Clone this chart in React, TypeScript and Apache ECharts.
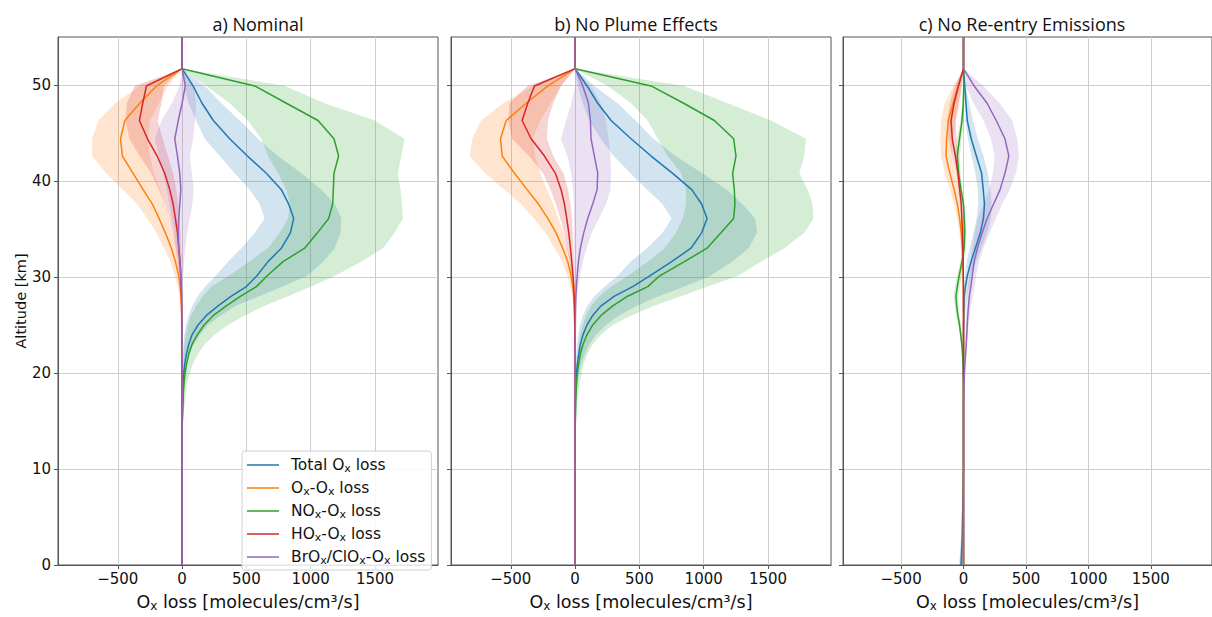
import React, { useEffect, useRef } from 'react';
import * as echarts from 'echarts';

// Altitude levels [km]
const ALT = [0, 3, 10, 13, 15, 17, 18, 19, 20, 21, 22, 23, 24, 25, 26, 27, 28, 29, 30.1, 31.6, 33.0, 34.6, 36.1, 37.6, 39.1, 40.8, 42.6, 44.4, 46.3, 48.1, 49.9, 51.7, 55];

const PANEL_TITLES = ['a) Nominal', 'b) No Plume Effects', 'c) No Re-entry Emissions'];
const SERIES_KEYS = ['total', 'ox', 'nox', 'hox', 'brox'];
const SERIES_LABELS = ['Total O{s|x} loss', 'O{s|x}-O{s|x} loss', 'NO{s|x}-O{s|x} loss', 'HO{s|x}-O{s|x} loss', 'BrO{s|x}/ClO{s|x}-O{s|x} loss'];
const COLORS = ['#1f77b4', '#ff7f0e', '#2ca02c', '#d62728', '#9467bd'];
const BAND_FILLS = ['rgba(31,119,180,0.2)', 'rgba(255,127,14,0.2)', 'rgba(44,160,44,0.2)', 'rgba(214,39,40,0.2)', 'rgba(148,103,189,0.2)'];
const X_TICKS = [-500, 0, 500, 1000, 1500];
const Y_TICKS = [0, 10, 20, 30, 40, 50];

// ---- Panel a) Nominal ----
const A_TOTAL = [0, 0, 0, 0, 1, 3, 5, 8, 13, 21, 34, 52, 78, 124, 189, 280, 383, 500, 580, 668, 772, 842, 868, 829, 772, 655, 508, 370, 243, 155, 85, 0, 0];
const A_TOTAL_LO = [0, 0, 0, 0, 0, 0, 0, 1, 2, 4, 6, 10, 18, 30, 50, 80, 120, 180, 260, 357, 461, 565, 642, 603, 526, 409, 293, 176, 110, 50, 15, 0, 0];
const A_TOTAL_HI = [0, 0, 0, 0, 2, 5, 9, 15, 24, 38, 60, 90, 140, 200, 300, 420, 600, 780, 970, 1096, 1186, 1233, 1238, 1186, 1083, 927, 746, 590, 448, 306, 176, 0, 0];
const A_OX = [0, 0, 0, 0, 0, 0, 0, 0, 0, 0, 0, 0, -1, -2, -3, -5, -8, -15, -26, -52, -83, -130, -179, -231, -303, -381, -464, -479, -445, -329, -199, 0, 0];
const A_OX_LO = [0, 0, 0, 0, 0, 0, 0, 0, 0, 0, 0, 0, -1, -3, -6, -12, -20, -35, -55, -90, -140, -200, -270, -350, -460, -590, -700, -700, -650, -520, -330, 0, 0];
const A_OX_HI = [0, 0, 0, 0, 0, 0, 0, 0, 0, 0, 0, 0, 0, 0, 0, -1, -3, -6, -12, -25, -40, -65, -95, -130, -170, -220, -250, -265, -250, -180, -110, 0, 0];
const A_NOX = [0, 0, 0, 0, 2, 8, 10, 16, 23, 36, 52, 78, 119, 171, 243, 344, 456, 578, 660, 785, 953, 1052, 1140, 1171, 1176, 1181, 1217, 1181, 1057, 811, 565, 0, 0];
const A_NOX_LO = [0, 0, 0, 0, 0, 1, 2, 3, 5, 8, 12, 18, 28, 45, 70, 110, 160, 230, 360, 520, 668, 759, 824, 837, 811, 746, 668, 616, 513, 370, 189, 0, 0];
const A_NOX_HI = [0, 0, 0, 2, 8, 23, 31, 41, 60, 85, 124, 176, 254, 357, 487, 642, 824, 1005, 1186, 1393, 1562, 1652, 1717, 1709, 1699, 1678, 1704, 1730, 1497, 1108, 798, 0, 0];
const A_HOX = [0, 0, 0, 0, 0, -1, -1, -1, -1, -1, -1, -2, -2, -3, -3, -4, -5, -7, -10, -16, -26, -36, -52, -70, -96, -135, -194, -269, -332, -306, -277, 0, 0];
const A_HOX_LO = [0, 0, 0, 0, 0, -1, -1, -1, -1, -1, -1, -1, -2, -3, -4, -6, -9, -14, -22, -35, -50, -70, -95, -130, -180, -240, -330, -410, -440, -430, -370, 0, 0];
const A_HOX_HI = [0, 0, 0, 0, 0, 0, 0, 0, 0, 0, 0, 0, 0, 0, 0, 0, 0, -1, -2, -4, -8, -12, -20, -30, -45, -70, -110, -150, -190, -160, -140, 0, 0];
const A_BROX = [0, 0, 0, 0, 0, 0, 0, 0, 0, 0, 0, 0, 0, 0, -1, -2, -3, -5, -10, -16, -26, -30, -26, -18, -10, -18, -36, -57, -30, 0, 25, 0, 0];
const A_BROX_LO = [0, 0, 0, 0, 0, 0, 0, 0, 0, 0, 0, 0, 0, -2, -3, -5, -8, -12, -20, -30, -45, -60, -80, -100, -120, -150, -180, -212, -160, -80, -20, 0, 0];
const A_BROX_HI = [0, 0, 0, 0, 0, 0, 0, 0, 0, 0, 0, 0, 0, 0, 1, 2, 3, 5, 8, 15, 25, 40, 60, 80, 90, 75, 60, 85, 100, 110, 90, 0, 0];

// ---- Panel b) No Plume Effects ----
const B_TOTAL = [0, 0, 0, 0, 1, 2, 3, 6, 10, 18, 28, 41, 62, 93, 137, 202, 306, 448, 578, 751, 901, 984, 1026, 984, 907, 759, 591, 435, 280, 176, 93, 0, 0];
const B_TOTAL_LO = [0, 0, 0, 0, 0, 0, 0, 1, 3, 5, 9, 15, 24, 38, 60, 95, 150, 230, 330, 430, 560, 680, 750, 680, 560, 430, 300, 200, 110, 60, 20, 0, 0];
const B_TOTAL_HI = [0, 0, 0, 0, 2, 7, 12, 20, 32, 50, 75, 112, 165, 240, 340, 480, 650, 850, 1050, 1220, 1350, 1415, 1400, 1300, 1180, 990, 780, 610, 470, 330, 150, 0, 0];
const B_OX = [0, 0, 0, 0, 0, 0, 0, 0, 0, 0, 0, 0, -1, -2, -4, -6, -10, -18, -31, -57, -96, -148, -212, -285, -373, -471, -567, -580, -536, -381, -212, 0, 0];
const B_OX_LO = [0, 0, 0, 0, 0, 0, 0, 0, 0, 0, 0, -1, -2, -4, -7, -13, -22, -38, -60, -100, -160, -230, -320, -420, -550, -700, -820, -800, -730, -560, -330, 0, 0];
const B_OX_HI = [0, 0, 0, 0, 0, 0, 0, 0, 0, 0, 0, 0, 0, 0, -1, -2, -4, -8, -18, -35, -58, -90, -130, -170, -220, -270, -310, -330, -270, -190, -110, 0, 0];
const B_NOX = [0, 0, 0, 0, 2, 5, 8, 12, 18, 28, 41, 62, 93, 137, 202, 293, 409, 565, 655, 850, 1026, 1134, 1233, 1243, 1238, 1225, 1251, 1233, 1083, 844, 591, 0, 0];
const B_NOX_LO = [0, 0, 0, 0, 0, 2, 3, 5, 10, 16, 23, 31, 41, 60, 85, 124, 189, 280, 409, 565, 694, 785, 837, 862, 862, 824, 720, 642, 565, 435, 254, 0, 0];
const B_NOX_HI = [0, 0, 0, 2, 8, 18, 26, 36, 52, 67, 98, 137, 202, 293, 435, 616, 824, 1031, 1264, 1445, 1627, 1782, 1854, 1847, 1808, 1743, 1782, 1795, 1523, 1186, 850, 0, 0];
const B_HOX = [0, 0, 0, 0, 0, -1, -1, -1, -1, -1, -1, -2, -2, -3, -4, -5, -7, -10, -16, -26, -36, -49, -65, -83, -109, -153, -238, -342, -412, -368, -316, 0, 0];
const B_HOX_LO = [0, 0, 0, 0, 0, -1, -1, -1, -1, -1, -1, -2, -3, -5, -7, -10, -14, -20, -30, -44, -62, -85, -115, -150, -190, -250, -360, -490, -520, -510, -370, 0, 0];
const B_HOX_HI = [0, 0, 0, 0, 0, 0, 0, 0, 0, 0, 0, 0, 0, 0, -1, -1, -2, -3, -5, -8, -12, -18, -25, -35, -55, -90, -170, -220, -210, -170, -110, 0, 0];
const B_BROX = [0, 0, 0, 0, 0, 0, 0, 0, 0, 0, 0, 0, 1, 2, 3, 4, 6, 10, 16, 26, 41, 67, 98, 137, 171, 176, 150, 124, 119, 104, 60, 0, 0];
const B_BROX_LO = [0, 0, 0, 0, 0, 0, 0, 0, 0, 0, 0, 0, 0, 0, -1, -2, -2, -3, -4, -6, -8, -10, -10, -10, -15, -30, -60, -110, -70, -30, 0, 0, 0];
const B_BROX_HI = [0, 0, 0, 0, 0, 0, 0, 0, 0, 0, 0, 1, 2, 4, 6, 10, 16, 25, 38, 60, 90, 130, 185, 240, 275, 280, 275, 260, 240, 200, 120, 0, 0];

// ---- Panel c) No Re-entry Emissions ----
const C_TOTAL = [-20, -10, 0, 0, 0, 0, 0, 0, 0, 0, 0, 0, 0, 1, 2, 4, 6, 15, 30, 60, 95, 135, 160, 168, 158, 145, 103, 62, 30, 20, 10, 0, 0];
const C_TOTAL_LO = [-35, -20, -5, 0, 0, 0, 0, 0, 0, 0, 0, 0, 0, 0, 0, 1, 2, 5, 10, 25, 50, 80, 105, 118, 115, 95, 65, 35, 15, 10, 5, 0, 0];
const C_TOTAL_HI = [-5, 0, 5, 2, 1, 1, 1, 2, 3, 4, 5, 6, 8, 10, 14, 20, 30, 45, 60, 100, 145, 190, 220, 225, 215, 195, 160, 115, 75, 45, 20, 0, 0];
const C_OX = [0, 0, 0, 0, 0, 0, 0, 0, 0, 0, 0, 0, 0, 0, 0, 0, 0, -1, -2, -5, -10, -18, -31, -49, -75, -109, -140, -135, -122, -83, -44, 0, 0];
const C_OX_LO = [0, 0, 0, 0, 0, 0, 0, 0, 0, 0, 0, 0, 0, 0, 0, 0, -1, -2, -5, -10, -20, -32, -50, -75, -110, -150, -180, -185, -180, -150, -80, 0, 0];
const C_OX_HI = [0, 0, 0, 0, 0, 0, 0, 0, 0, 0, 0, 0, 0, 0, 0, 0, 0, 0, 0, -1, -3, -7, -14, -25, -40, -65, -90, -85, -60, -30, -15, 0, 0];
const C_NOX = [0, 0, 0, 0, 0, 0, 0, 0, -2, -4, -8, -14, -22, -32, -45, -55, -60, -50, -35, -12, 5, 10, 6, 0, -20, -40, -50, -32, -12, -2, 2, 0, 0];
const C_NOX_LO = [0, 0, 0, 0, 0, 0, 0, 0, -3, -6, -12, -20, -30, -42, -58, -70, -78, -68, -50, -25, -5, -2, -4, -12, -30, -55, -70, -50, -25, -8, -5, 0, 0];
const C_NOX_HI = [0, 0, 0, 0, 0, 0, 0, 1, 1, 0, -3, -7, -13, -22, -32, -40, -42, -30, -15, 5, 18, 22, 16, 8, -8, -25, -30, -15, 2, 8, 10, 0, 0];
const C_HOX = [0, 0, 0, 0, 0, 0, 0, 0, 0, 0, 0, 0, 0, 0, 0, -1, -1, -1, -2, -3, -5, -8, -13, -18, -31, -44, -65, -90, -100, -75, -40, 0, 0];
const C_HOX_LO = [0, 0, 0, 0, 0, 0, 0, 0, 0, 0, 0, 0, 0, 0, -1, -1, -2, -2, -3, -5, -8, -13, -20, -28, -42, -60, -90, -120, -130, -110, -70, 0, 0];
const C_HOX_HI = [0, 0, 0, 0, 0, 0, 0, 0, 0, 0, 0, 0, 0, 0, 0, 0, 0, 0, -1, -1, -2, -4, -7, -10, -20, -28, -40, -55, -65, -40, -15, 0, 0];
const C_BROX = [0, 0, 0, 0, 0, 0, 2, 4, 8, 12, 17, 22, 26, 30, 34, 40, 47, 58, 70, 85, 111, 150, 189, 241, 293, 332, 363, 332, 262, 189, 85, 0, 0];
const C_BROX_LO = [0, 0, 0, 0, 0, 0, 0, 0, 2, 5, 8, 12, 16, 19, 22, 26, 30, 36, 45, 55, 70, 90, 115, 160, 205, 235, 250, 220, 160, 80, 20, 0, 0];
const C_BROX_HI = [0, 0, 0, 0, 0, 1, 3, 6, 10, 16, 22, 28, 35, 42, 50, 60, 75, 90, 100, 125, 160, 210, 260, 310, 370, 420, 445, 430, 390, 290, 160, 0, 0];

const PANEL_MEANS = [
  [A_TOTAL, A_OX, A_NOX, A_HOX, A_BROX],
  [B_TOTAL, B_OX, B_NOX, B_HOX, B_BROX],
  [C_TOTAL, C_OX, C_NOX, C_HOX, C_BROX],
];
const PANEL_LOS = [
  [A_TOTAL_LO, A_OX_LO, A_NOX_LO, A_HOX_LO, A_BROX_LO],
  [B_TOTAL_LO, B_OX_LO, B_NOX_LO, B_HOX_LO, B_BROX_LO],
  [C_TOTAL_LO, C_OX_LO, C_NOX_LO, C_HOX_LO, C_BROX_LO],
];
const PANEL_HIS = [
  [A_TOTAL_HI, A_OX_HI, A_NOX_HI, A_HOX_HI, A_BROX_HI],
  [B_TOTAL_HI, B_OX_HI, B_NOX_HI, B_HOX_HI, B_BROX_HI],
  [C_TOTAL_HI, C_OX_HI, C_NOX_HI, C_HOX_HI, C_BROX_HI],
];

const GRID_LEFTS = [58, 451, 843];
const GRID_TOP = 37;
const GRID_W = 380;
const GRID_H = 540;
const TITLE_X = [258, 636, 1022];
const FONT = 'DejaVu Sans';

const xFmt = (v: number) => (v < 0 ? '\u2212' + Math.abs(v) : String(v));

function buildOption(): any {
  const grids: any[] = [];
  const xAxes: any[] = [];
  const yAxes: any[] = [];
  const series: any[] = [];

  for (let p = 0; p < 3; p++) {
    grids.push({
      left: GRID_LEFTS[p], top: GRID_TOP, width: GRID_W, height: GRID_H,
      show: true, borderColor: '#555', borderWidth: 1, backgroundColor: 'transparent',
    });
    xAxes.push({
      type: 'value', gridIndex: p, min: -965, max: 1990, minInterval: 500, maxInterval: 500,
      axisLine: { show: true, onZero: false, lineStyle: { color: '#555', width: 1 } },
      axisTick: { show: true, length: 4, customValues: X_TICKS, lineStyle: { color: '#555' } },
      axisLabel: {
        customValues: X_TICKS, formatter: xFmt,
        fontSize: 15, color: '#111', margin: 6, fontFamily: FONT,
      },
      splitLine: { show: true, lineStyle: { color: '#cfcfcf', width: 1 } },
      name: 'O{s|x} loss [molecules/cm³/s]', nameLocation: 'middle', nameGap: 26,
      nameTextStyle: {
        fontSize: 17.5, color: '#111', fontFamily: FONT, lineHeight: 21,
        rich: { s: { fontSize: 12, fontFamily: FONT, color: '#111', verticalAlign: 'bottom', lineHeight: 21 } },
      },
    });
    yAxes.push({
      type: 'value', gridIndex: p, min: 0, max: 55, minInterval: 10, maxInterval: 10,
      axisLine: { show: true, onZero: false, lineStyle: { color: '#555', width: 1 } },
      axisTick: { show: true, length: 4, customValues: Y_TICKS, lineStyle: { color: '#555' } },
      axisLabel: {
        show: p === 0, customValues: Y_TICKS,
        fontSize: 15, color: '#111', margin: 7, fontFamily: FONT,
      },
      splitLine: { show: true, lineStyle: { color: '#cfcfcf', width: 1 } },
      name: p === 0 ? 'Altitude [km]' : '', nameLocation: 'middle', nameGap: 30, nameRotate: 90,
      nameTextStyle: { fontSize: 14.5, color: '#111', fontFamily: FONT },
    });

    // uncertainty bands
    for (let k = 0; k < 5; k++) {
      const lo = PANEL_LOS[p][k];
      const hi = PANEL_HIS[p][k];
      const fill = BAND_FILLS[k];
      series.push({
        type: 'custom', name: 'band_' + p + '_' + k, xAxisIndex: p, yAxisIndex: p,
        silent: true, z: 1, clip: true,
        data: [[0, 0]],
        encode: { x: 0, y: 1 },
        renderItem: (_params: any, api: any) => {
          const pts: number[][] = [];
          for (let i = 0; i < ALT.length; i++) pts.push(api.coord([lo[i], ALT[i]]));
          for (let i = ALT.length - 1; i >= 0; i--) pts.push(api.coord([hi[i], ALT[i]]));
          return { type: 'polygon', shape: { points: pts }, style: { fill, stroke: 'none' } };
        },
      });
    }
    // mean lines
    for (let k = 0; k < 5; k++) {
      const vals = PANEL_MEANS[p][k];
      series.push({
        type: 'line', name: SERIES_KEYS[k], xAxisIndex: p, yAxisIndex: p,
        data: ALT.map((a, i) => [vals[i], a]),
        showSymbol: false, symbol: 'none', z: 3, clip: true,
        color: COLORS[k],
        lineStyle: { color: COLORS[k], width: 1.5 },
      });
    }
  }

  const graphic = PANEL_TITLES.map((t, i) => ({
    type: 'text', x: TITLE_X[i], y: 24,
    style: { text: t, fontSize: 18, fontFamily: 'Open Sans', fill: '#111', align: 'center', verticalAlign: 'middle' },
  }));

  return {
    animation: false,
    backgroundColor: '#fff',
    grid: grids,
    xAxis: xAxes,
    yAxis: yAxes,
    graphic,
    legend: {
      data: SERIES_KEYS.map((k) => ({ name: k, icon: 'rect' })),
      orient: 'vertical', left: 242, top: 451,
      itemWidth: 32, itemHeight: 1.5, itemGap: 5,
      backgroundColor: 'rgba(255,255,255,0.85)', borderColor: '#d0d0d0', borderWidth: 1, borderRadius: 3,
      padding: [5, 6, 4, 5],
      selectedMode: false,
      formatter: (name: string) => SERIES_LABELS[SERIES_KEYS.indexOf(name)],
      textStyle: {
        fontSize: 15.5, fontFamily: FONT, color: '#111', lineHeight: 18, padding: [0, 0, 0, 7],
        rich: { s: { fontSize: 11, fontFamily: FONT, color: '#111', verticalAlign: 'bottom', lineHeight: 18 } },
      },
    },
    series,
  };
}

export default function App() {
  const ref = useRef<HTMLDivElement>(null);
  useEffect(() => {
    if (!ref.current) return;
    const chart = echarts.init(ref.current, null, { renderer: 'svg' });
    chart.setOption(buildOption());
    return () => chart.dispose();
  }, []);
  return <div ref={ref} style={{ position: 'absolute', left: 0, top: 0, width: 1212, height: 617, background: '#fff' }} />;
}
